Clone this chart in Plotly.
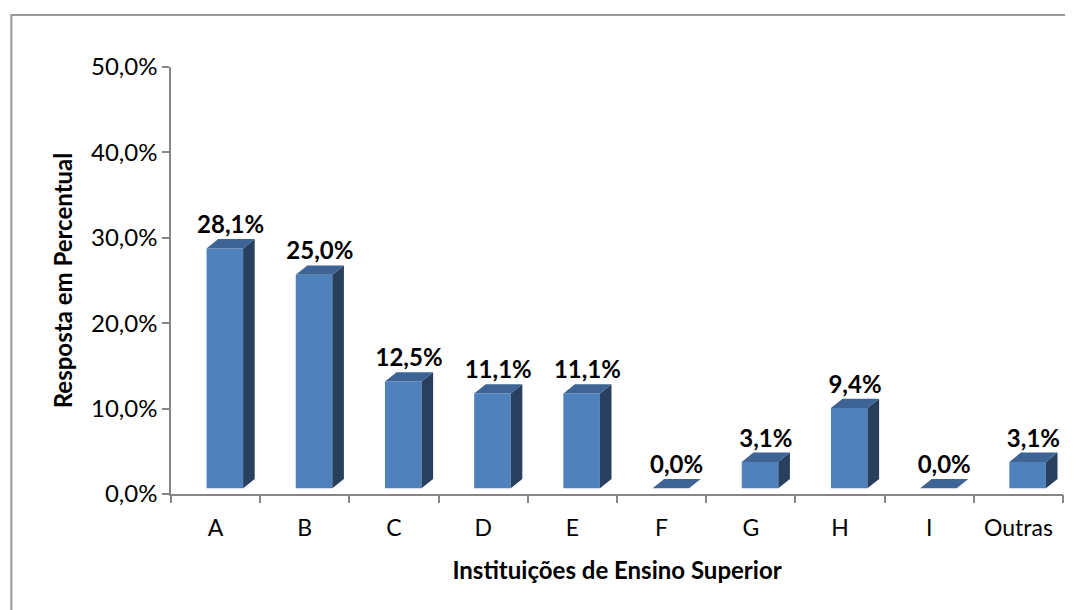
import plotly.graph_objects as go

categories = ["A", "B", "C", "D", "E", "F", "G", "H", "I", "Outras"]
values = [28.1, 25.0, 12.5, 11.1, 11.1, 0.0, 3.1, 9.4, 0.0, 3.1]
y_ticks = [0, 10, 20, 30, 40, 50]


def pct(v):
    return f"{v:.1f}".replace(".", ",") + "%"


# 3D-look geometry (style parameters, in axis units)
FRONT_OFF = 0.1035   # front face centre offset from category centre
FRONT_W = 0.41       # front face width
DX = 0.13            # depth in x
DY = 1.1             # depth in y (%)
BASE = 0.66          # floor offset (%)

FRONT = "#4F81BD"
TOP = "#3D6494"
SIDE = "#293F5E"
FONT = "Lato"
AXC = "#868686"

xs = list(range(len(categories)))
fig = go.Figure()

# front faces
fig.add_trace(go.Bar(
    x=[i + FRONT_OFF for i in xs], y=values, base=[BASE] * len(values),
    width=FRONT_W, marker=dict(color=FRONT, line=dict(width=0)),
    hoverinfo="skip", showlegend=False,
))

# side and top faces
for i, v in zip(xs, values):
    x0 = i + FRONT_OFF - FRONT_W / 2
    x1 = i + FRONT_OFF + FRONT_W / 2
    top = v + BASE
    if v > 0:
        fig.add_trace(go.Scatter(
            x=[x1, x1 + DX, x1 + DX, x1, x1],
            y=[BASE, BASE + DY, top + DY, top, BASE],
            fill="toself", fillcolor=SIDE, mode="lines", line=dict(width=0, color=SIDE),
            hoverinfo="skip", showlegend=False,
        ))
    fig.add_trace(go.Scatter(
        x=[x0, x1, x1 + DX, x0 + DX, x0],
        y=[top, top, top + DY, top + DY, top],
        fill="toself", fillcolor=TOP, mode="lines", line=dict(width=0, color=TOP),
        hoverinfo="skip", showlegend=False,
    ))

# value labels
fig.add_trace(go.Scatter(
    x=[i + FRONT_OFF + DX / 2 for i in xs],
    y=[v + BASE + DY for v in values],
    mode="text",
    text=[pct(v) for v in values],
    textposition="top center",
    textfont=dict(family=FONT, size=24, color="black", weight="bold"),
    hoverinfo="skip", showlegend=False,
))

# invisible trace for boundary tick axis
fig.add_trace(go.Scatter(x=[-0.5, 9.5], y=[0, 0], xaxis="x2", mode="markers",
                         marker=dict(opacity=0), hoverinfo="skip", showlegend=False))

# page body has an 8px margin: figure is offset by 8px right and down
W, H = 1065, 602
fig.update_layout(
    width=W, height=H,
    margin=dict(l=162.7, r=10, t=59, b=H - 486.3, autoexpand=False),
    paper_bgcolor="white", plot_bgcolor="white",
    font=dict(family=FONT, color="black"),
    xaxis=dict(
        range=[-0.5, 9.5], tickvals=xs, ticktext=categories, ticks="",
        showline=True, linecolor=AXC, linewidth=1.5, showgrid=False, zeroline=False,
        tickfont=dict(family=FONT, size=23, color="black"), ticklabelstandoff=13,
        title=dict(text="Instituições de Ensino Superior", standoff=22,
                   font=dict(family=FONT, size=24, color="black", weight="bold")),
        fixedrange=True,
    ),
    xaxis2=dict(
        overlaying="x", matches="x", range=[-0.5, 9.5],
        tickvals=[i - 0.5 for i in range(len(categories) + 1)], ticktext=[""] * (len(categories) + 1),
        ticks="outside", ticklen=8, tickwidth=1.5, tickcolor=AXC,
        showline=False, showgrid=False, zeroline=False, showticklabels=False, anchor="y",
    ),
    yaxis=dict(
        range=[0, 50], tickvals=y_ticks, ticktext=[pct(t) for t in y_ticks],
        ticks="outside", ticklen=7, tickwidth=1.5, tickcolor=AXC,
        showline=True, linecolor=AXC, linewidth=1.5, showgrid=False, zeroline=False,
        tickfont=dict(family=FONT, size=24, color="black"), ticklabelstandoff=0,
        title=dict(text="Resposta em Percentual", standoff=12,
                   font=dict(family=FONT, size=24, color="black", weight="bold")),
        fixedrange=True,
    ),
    shapes=[dict(type="rect", xref="paper", yref="paper",
                 x0=(3 - 162.7) / 892.3, x1=1.1, y0=-0.5, y1=(486.3 - 7) / 427.3,
                 line=dict(color="#9A9A9A", width=2), layer="below")],
)

fig.write_html("out.html")
